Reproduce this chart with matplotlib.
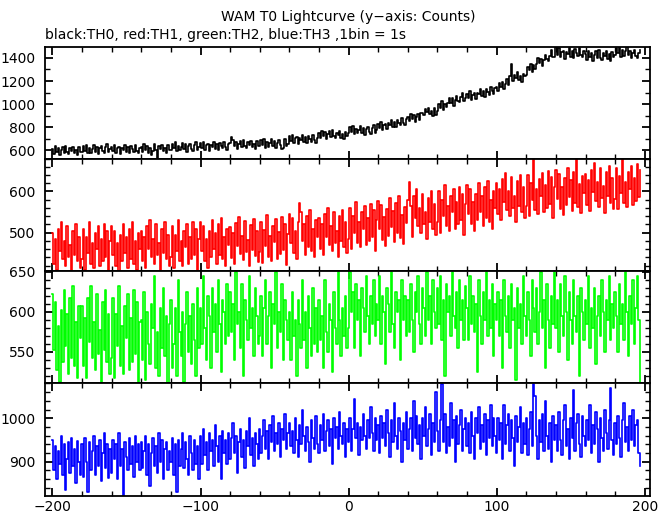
import matplotlib
matplotlib.use("Agg")
import matplotlib.pyplot as plt
import numpy as np
from matplotlib.ticker import MultipleLocator, FixedLocator

# counts per 1 s bin, starting at t = -200 s
th0 = [
    610, 570, 633, 588, 620, 560, 603, 628, 578, 638, 583, 566, 616, 593, 631, 573, 606, 558, 625, 586,
    585, 635, 597, 647, 572, 620, 580, 610, 643, 587, 630, 565, 615, 637, 593, 577, 625, 650, 583, 608,
    632, 592, 647, 577, 615, 627, 565, 619, 602, 642, 582, 625, 572, 635, 609, 587, 645, 597, 577, 622,
    627, 587, 650, 605, 637, 577, 620, 560, 595, 655, 600, 535, 633, 610, 648, 590, 623, 575, 642, 603,
    605, 655, 617, 667, 592, 640, 600, 630, 663, 607, 650, 585, 635, 657, 613, 597, 645, 670, 603, 628,
    660, 620, 675, 605, 643, 655, 593, 647, 630, 670, 610, 653, 600, 663, 637, 615, 673, 625, 605, 650,
    662, 715, 685, 640, 672, 612, 655, 680, 630, 690, 635, 618, 668, 645, 683, 625, 658, 610, 677, 638,
    635, 685, 647, 697, 622, 670, 630, 660, 693, 637, 680, 615, 665, 687, 643, 612, 618, 700, 633, 658,
    720, 680, 735, 665, 703, 715, 653, 707, 690, 730, 670, 713, 660, 723, 697, 675, 733, 685, 665, 710,
    747, 707, 770, 725, 757, 697, 740, 765, 715, 775, 720, 703, 753, 730, 768, 710, 743, 695, 762, 723,
    750, 800, 762, 812, 737, 785, 745, 775, 808, 752, 795, 730, 780, 802, 758, 742, 790, 815, 748, 773,
    825, 790, 848, 772, 815, 830, 783, 840, 822, 860, 805, 843, 797, 858, 835, 817, 877, 838, 822, 868,
    892, 852, 915, 870, 902, 842, 885, 910, 860, 920, 920, 903, 953, 930, 968, 910, 943, 895, 962, 905,
    941, 1001, 966, 1025, 950, 1003, 975, 1011, 1055, 1010, 1050, 982, 1037, 1068, 1030, 1015, 1060, 1094, 1025, 1050,
    1090, 1052, 1113, 1035, 1080, 1100, 1040, 1099, 1088, 1130, 1072, 1112, 1058, 1132, 1105, 1082, 1150, 1110, 1090, 1140,
    1144, 1110, 1180, 1145, 1190, 1130, 1175, 1215, 1165, 1240, 1348, 1200, 1250, 1225, 1275, 1205, 1240, 1190, 1265, 1240,
    1256, 1320, 1292, 1350, 1280, 1340, 1300, 1345, 1396, 1355, 1395, 1330, 1385, 1425, 1390, 1372, 1420, 1470, 1405, 1410,
    1495, 1425, 1488, 1404, 1450, 1464, 1390, 1454, 1434, 1482, 1410, 1462, 1398, 1474, 1442, 1416, 1486, 1428, 1404, 1458,
    1434, 1386, 1462, 1408, 1446, 1374, 1426, 1456, 1396, 1468, 1402, 1382, 1442, 1414, 1460, 1390, 1430, 1372, 1452, 1406,
    1426, 1486, 1440, 1500, 1410, 1468, 1420, 1456, 1495, 1428, 1460, 1402, 1442, 1468, 1416, 1396, 1444, 1470,
]

th1 = [
    500, 425, 485, 410, 510, 455, 525, 435, 480, 420, 515, 440, 470, 405, 505, 445, 520, 430, 490, 415,
    435, 510, 410, 490, 450, 525, 425, 475, 415, 500, 460, 515, 420, 485, 430, 520, 440, 505, 405, 480,
    515, 445, 505, 420, 475, 405, 495, 430, 520, 450, 490, 415, 510, 435, 525, 425, 480, 410, 500, 460,
    505, 430, 490, 415, 515, 460, 530, 440, 485, 425, 520, 445, 475, 410, 510, 450, 525, 435, 495, 420,
    440, 515, 415, 495, 455, 530, 430, 480, 420, 505, 465, 520, 425, 490, 435, 525, 445, 510, 410, 485,
    525, 455, 515, 430, 485, 415, 505, 440, 530, 460, 500, 425, 520, 445, 535, 435, 490, 420, 510, 470,
    513, 438, 498, 423, 523, 468, 538, 448, 493, 433, 528, 453, 483, 418, 518, 458, 533, 443, 503, 428,
    452, 527, 427, 507, 467, 542, 442, 492, 432, 517, 477, 532, 437, 502, 447, 537, 457, 522, 422, 497,
    545, 475, 535, 450, 505, 435, 525, 572, 550, 480, 520, 445, 540, 465, 555, 455, 510, 440, 530, 490,
    535, 460, 520, 445, 545, 490, 560, 470, 515, 455, 550, 475, 505, 440, 540, 480, 555, 465, 525, 450,
    485, 560, 460, 540, 500, 575, 475, 525, 465, 550, 510, 565, 470, 535, 480, 570, 490, 555, 455, 530,
    578, 508, 568, 483, 538, 468, 558, 493, 583, 513, 553, 478, 573, 498, 588, 488, 543, 473, 563, 523,
    580, 624, 565, 490, 590, 535, 605, 515, 560, 500, 595, 520, 550, 485, 585, 525, 600, 510, 570, 495,
    525, 600, 500, 580, 540, 615, 515, 565, 505, 590, 550, 605, 510, 575, 520, 610, 530, 595, 495, 570,
    615, 545, 605, 520, 575, 505, 595, 530, 620, 550, 590, 515, 610, 535, 625, 525, 580, 510, 600, 560,
    620, 545, 605, 530, 630, 575, 645, 555, 600, 540, 635, 560, 590, 525, 625, 565, 640, 550, 610, 535,
    565, 640, 540, 620, 580, 678, 555, 605, 545, 630, 590, 645, 550, 615, 560, 650, 570, 635, 535, 610,
    652, 582, 642, 557, 612, 542, 632, 567, 657, 587, 627, 552, 647, 572, 680, 562, 617, 547, 637, 597,
    643, 568, 628, 553, 653, 598, 668, 578, 623, 563, 658, 583, 613, 548, 648, 588, 663, 573, 633, 558,
    582, 657, 557, 637, 597, 680, 572, 622, 562, 647, 607, 662, 567, 632, 577, 667, 587, 652,
]

th2 = [
    622, 552, 612, 527, 582, 512, 602, 537, 627, 557, 597, 522, 617, 542, 632, 532, 587, 517, 607, 567,
    607, 532, 592, 517, 617, 562, 632, 542, 587, 527, 622, 547, 577, 512, 612, 552, 627, 537, 597, 522,
    542, 617, 517, 597, 557, 632, 532, 582, 522, 607, 567, 622, 527, 592, 537, 627, 547, 612, 512, 587,
    590, 540, 625, 515, 600, 560, 535, 610, 580, 645, 530, 575, 520, 605, 555, 630, 545, 595, 510, 585,
    615, 530, 560, 605, 520, 640, 575, 545, 600, 512, 585, 625, 550, 595, 535, 610, 565, 520, 630, 555,
    605, 560, 645, 580, 540, 620, 595, 530, 630, 575, 610, 550, 640, 585, 525, 615, 600, 560, 635, 570,
    625, 575, 610, 540, 650, 585, 600, 555, 635, 520, 615, 590, 565, 645, 580, 605, 545, 630, 595, 560,
    570, 620, 545, 605, 640, 560, 595, 625, 530, 610, 585, 650, 555, 600, 575, 635, 540, 615, 590, 565,
    600, 540, 625, 570, 590, 520, 615, 585, 555, 640, 565, 600, 530, 620, 580, 545, 630, 560, 605, 550,
    615, 565, 595, 530, 640, 575, 550, 610, 590, 525, 625, 580, 560, 650, 590, 545, 605, 570, 620, 555,
    580, 650, 600, 625, 555, 635, 590, 615, 545, 630, 605, 575, 645, 595, 560, 620, 585, 640, 570, 610,
    590, 645, 560, 620, 600, 535, 630, 610, 575, 650, 585, 555, 625, 600, 615, 540, 640, 590, 620, 570,
    615, 575, 635, 590, 550, 625, 600, 645, 585, 560, 630, 605, 570, 650, 590, 620, 560, 640, 600, 580,
    630, 585, 645, 565, 615, 520, 635, 600, 620, 570, 650, 595, 580, 625, 555, 640, 590, 615, 565, 632,
    605, 565, 645, 585, 620, 575, 610, 525, 640, 595, 560, 625, 590, 650, 570, 615, 580, 635, 545, 610,
    590, 625, 570, 615, 530, 640, 595, 575, 620, 555, 635, 590, 605, 515, 630, 580, 610, 560, 645, 595,
    570, 625, 590, 545, 640, 605, 575, 630, 560, 600, 650, 580, 615, 530, 635, 590, 555, 620, 585, 650,
    580, 615, 550, 635, 595, 570, 645, 600, 540, 625, 590, 560, 640, 595, 575, 620, 520, 630, 600, 565,
    615, 585, 645, 555, 605, 580, 630, 535, 595, 620, 570, 640, 600, 550, 615, 590, 645, 565, 610, 580,
    625, 595, 550, 635, 585, 610, 565, 650, 600, 545, 620, 585, 640, 560, 605, 645, 590, 505,
]

th3 = [
    950, 880, 935, 860, 925, 895, 960, 870, 940, 835, 905, 945, 875, 955, 890, 930, 850, 948, 900, 870,
    940, 865, 955, 900, 830, 945, 880, 925, 960, 870, 935, 890, 950, 855, 920, 965, 885, 940, 862, 930,
    875, 950, 905, 940, 860, 965, 890, 930, 822, 945, 910, 880, 955, 895, 935, 865, 960, 900, 940, 880,
    945, 885, 925, 960, 870, 940, 845, 920, 955, 890, 935, 875, 965, 900, 950, 860, 930, 945, 880, 925,
    900, 955, 870, 940, 830, 950, 890, 930, 965, 885, 945, 905, 870, 960, 920, 880, 950, 895, 935, 860,
    960, 895, 975, 915, 945, 880, 965, 925, 950, 890, 985, 935, 900, 960, 860, 970, 920, 950, 895, 965,
    905, 955, 990, 920, 960, 875, 945, 975, 910, 950, 885, 970, 935, 1000, 915, 955, 890, 965, 940, 905,
    975, 920, 960, 995, 930, 970, 905, 985, 945, 1005, 925, 965, 940, 990, 910, 975, 950, 1010, 930, 965,
    990, 935, 970, 920, 1000, 950, 910, 985, 940, 1020, 960, 925, 980, 945, 900, 995, 955, 930, 1005, 940,
    920, 985, 950, 1010, 925, 970, 995, 935, 975, 895, 1000, 955, 980, 930, 1015, 960, 940, 990, 910, 975,
    945, 1000, 925, 975, 1045, 955, 990, 915, 980, 950, 1010, 960, 930, 995, 955, 1025, 965, 925, 1000, 950,
    985, 920, 1005, 955, 990, 935, 1020, 965, 910, 995, 945, 1035, 960, 930, 1000, 970, 900, 990, 950, 1015,
    930, 975, 1000, 925, 1040, 955, 1005, 940, 985, 905, 1000, 960, 1025, 935, 975, 1010, 915, 990, 945, 1060,
    970, 925, 995, 1078, 945, 1010, 920, 980, 935, 1035, 955, 995, 900, 1005, 940, 985, 1020, 925, 975, 1000,
    935, 990, 920, 1015, 960, 905, 1000, 965, 1025, 930, 985, 945, 1010, 915, 995, 955, 1030, 935, 1000, 960,
    920, 1000, 950, 990, 905, 1030, 940, 985, 1010, 925, 995, 955, 890, 1005, 945, 980, 1025, 920, 990, 940,
    1000, 915, 975, 1015, 935, 1078, 1050, 960, 905, 995, 945, 1010, 925, 1040, 960, 930, 990, 900, 1005, 950,
    985, 925, 1015, 950, 915, 995, 1030, 935, 975, 905, 1000, 955, 1065, 925, 990, 1010, 940, 910, 1005, 960,
    935, 995, 950, 1030, 920, 985, 940, 1015, 975, 900, 1000, 955, 925, 1020, 965, 930, 995, 1070, 950, 915,
    990, 940, 1005, 955, 910, 995, 1035, 945, 980, 925, 1005, 950, 1020, 935, 985, 995, 920, 890,
]

series = [th0, th1, th2, th3]
colors = ['#000000', '#ff0000', '#00ff00', '#0000ff']
ylims = [(528, 1495), (408, 680), (511, 651.5), (821, 1081)]
yticks = [[600, 800, 1000, 1200, 1400], [500, 600], [550, 600, 650], [900, 1000]]
yminor = [100, 20, 10, 20]
xticks = [-200, -100, 0, 100, 200]

plt.rcParams['font.family'] = ['DejaVu Sans']

fig = plt.figure(figsize=(6.69, 5.15), dpi=100)

left, width = 45 / 669, 605 / 669
edges = [47, 158.5, 270.5, 383, 496]
for k in range(4):
    top, bot = edges[k], edges[k + 1]
    ax = fig.add_axes([left, 1 - bot / 515, width, (bot - top) / 515])
    y = np.array(series[k])
    x = -200 + np.arange(len(y))
    ax.step(x, y, where='mid', color=colors[k], lw=1.2)
    ax.set_xlim(-205, 203.5)
    ax.set_ylim(*ylims[k])
    ax.yaxis.set_major_locator(FixedLocator(yticks[k]))
    ax.yaxis.set_minor_locator(MultipleLocator(yminor[k]))
    ax.xaxis.set_major_locator(FixedLocator(xticks))
    ax.xaxis.set_minor_locator(MultipleLocator(20))
    ax.tick_params(which='both', direction='in', top=True, right=True,
                   width=1.3, labelsize=10)
    ax.tick_params(axis='y', pad=7)
    ax.tick_params(axis='x', pad=3)
    ax.tick_params(which='major', length=6)
    ax.tick_params(which='minor', length=3.5, width=1.0)
    for sp in ax.spines.values():
        sp.set_linewidth(1.3)
    if k < 3:
        ax.tick_params(labelbottom=False)

fig.text(0.52, 1 - 17 / 515, 'WAM T0 Lightcurve (y\u2212axis: Counts)',
         ha='center', va='center', fontsize=10)
fig.text(45 / 669, 1 - 35 / 515, 'black:TH0, red:TH1, green:TH2, blue:TH3 ,1bin = 1s',
         ha='left', va='center', fontsize=10)

fig.savefig('out.png', dpi=100)
